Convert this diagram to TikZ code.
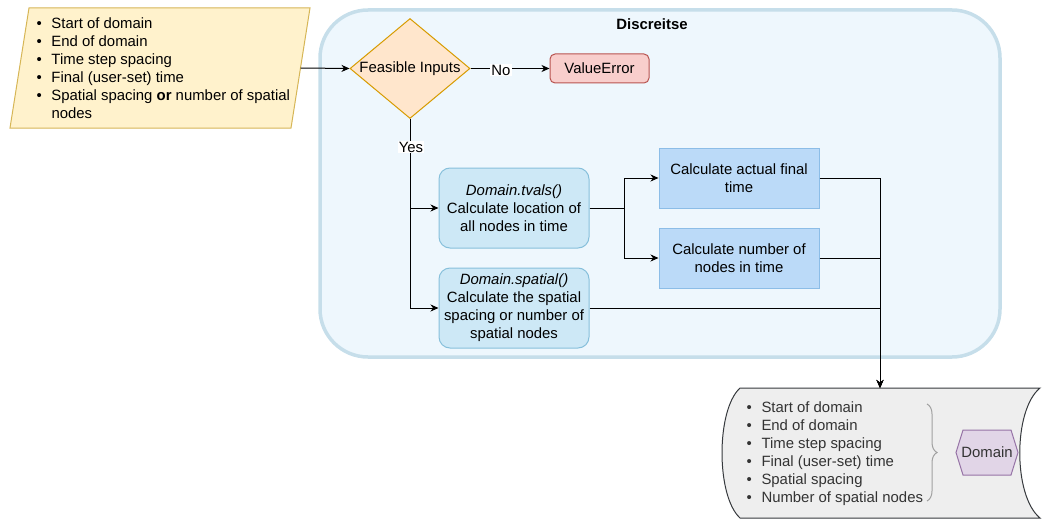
\documentclass[tikz,border=0pt]{standalone}
\usepackage{fontspec}
\setmainfont{Liberation Sans}
\usetikzlibrary{arrows.meta,shapes.geometric,decorations.pathreplacing,calc}
\definecolor{inFill}{HTML}{FFF2CC}
\definecolor{inLine}{HTML}{D6B656}
\definecolor{diaFill}{HTML}{FFE6CC}
\definecolor{diaLine}{HTML}{D79B00}
\definecolor{errFill}{HTML}{F8CECC}
\definecolor{errLine}{HTML}{B85450}
\definecolor{conFill}{HTML}{EEF7FD}
\definecolor{conLine}{HTML}{C6DEEA}
\definecolor{rbFill}{HTML}{CDE8F6}
\definecolor{rbLine}{HTML}{87C0DB}
\definecolor{sqFill}{HTML}{BBDAF8}
\definecolor{sqLine}{HTML}{8CBDE7}
\definecolor{stFill}{HTML}{EEEEEE}
\definecolor{stLine}{HTML}{36393D}
\definecolor{stText}{HTML}{333333}
\definecolor{domFill}{HTML}{E1D5E7}
\definecolor{domLine}{HTML}{9673A6}
\definecolor{braceCol}{HTML}{A0A0A0}
\newcommand{\bitem}[1]{\makebox[15pt][l]{\textbullet}#1}
\begin{document}
\begin{tikzpicture}[x=1pt,y=-1pt,
  font=\fontsize{14.9}{18}\selectfont,
  line width=1pt,
  arr/.style={-{Stealth[length=8pt,width=7pt,inset=2.5pt]}, line width=1pt},
  frame/.style={inner sep=0pt, outer sep=0pt},
  container/.style={draw=conLine, fill=conFill, line width=3.5pt, rounded corners=48pt, inner sep=0pt},
  decision/.style={diamond, draw=diaLine, fill=diaFill, aspect=1.2, inner sep=0pt, minimum width=120pt, minimum height=100pt},
  errbox/.style={draw=errLine, fill=errFill, rounded corners=5pt, minimum width=99pt, minimum height=29pt, inner sep=0pt},
  roundbox/.style={draw=rbLine, fill=rbFill, rounded corners=11pt, minimum width=150pt, minimum height=80pt, inner sep=0pt, align=center},
  sqbox/.style={draw=sqLine, fill=sqFill, minimum width=160pt, minimum height=60pt, inner sep=0pt, align=center},
  lbl/.style={fill=white, inner sep=1pt},
  listtext/.style={anchor=west, inner sep=0pt, align=left}
]
\useasboundingbox (0,0) rectangle (1056,524);

% container
\node[container, minimum width=680pt, minimum height=347pt] (disc) at (660,183.5) {};
\node[frame] (title) at (652,24) {\bfseries Discreitse};

% input parallelogram
\node[frame, minimum width=281pt, minimum height=120pt] (input) at (160,68) {};
\draw[draw=inLine, fill=inFill] (29,8) -- (310,8) -- (291,128) -- (10,128) -- cycle;
\node[listtext] (intext) at (36,68.5) {\bitem{Start of domain}\\
\bitem{End of domain}\\
\bitem{Time step spacing}\\
\bitem{Final (user-set) time}\\
\bitem{Spatial spacing \textbf{or} number of spatial}\\
\hspace*{15pt}nodes};

% decision
\node[decision] (dia) at (410,68.5) {Feasible Inputs};
\node[errbox] (err) at (599.5,68.5) {ValueError};

% process boxes
\node[roundbox] (tvals) at (514,208) {\textit{Domain.tvals()}\\Calculate location of\\all nodes in time};
\node[roundbox] (spatial) at (514,308) {\textit{Domain.spatial()}\\Calculate the spatial\\spacing or number of\\spatial nodes};
\node[sqbox] (final) at (739,178) {Calculate actual final\\time};
\node[sqbox] (number) at (739,258) {Calculate number of\\nodes in time};

% output storage
\node[frame, minimum width=300pt, minimum height=130pt] (store) at (890,453) {};
\draw[draw=stLine, fill=stFill] (740,388) -- (1040,388)
  .. controls (1013,410) and (1013,496) .. (1040,518) -- (740,518)
  .. controls (716,496) and (716,410) .. (740,388) -- cycle;
\node[listtext, text=stText] (storetext) at (746,454) {\bitem{Start of domain}\\
\bitem{End of domain}\\
\bitem{Time step spacing}\\
\bitem{Final (user-set) time}\\
\bitem{Spatial spacing}\\
\bitem{Number of spatial nodes}};
\draw[braceCol, line width=1pt, decorate, decoration={brace, amplitude=10pt, aspect=0.5}] (927,404) -- (927,501);
\draw[draw=domLine, fill=domFill] (956,452.5) -- (963,430) -- (1011,430) -- (1018,452.5) -- (1011,475) -- (963,475) -- cycle;
\node[frame, text=stText, minimum width=62pt, minimum height=45pt] (domain) at (987,452.5) {Domain};

% connectors
\draw[arr] (input.east) -- (dia.west);
\draw[arr] (dia.east) -- (err.west);
\node[lbl] (no) at (501,70) {No};
\draw[arr] (dia.south) |- (tvals.west);
\draw[arr] (dia.south) |- (spatial.west);
\node[lbl] (yes) at (411,147) {Yes};
\coordinate (split) at (624,208);
\draw[arr] (tvals.east) -- (split) |- (final.west);
\draw[arr] (tvals.east) -- (split) |- (number.west);
\coordinate (join) at ($(store.north)+(-10,0)$);
\draw[arr] (final.east) -| (join);
\draw[arr] (number.east) -| (join);
\draw[arr] (spatial.east) -| (join);
\end{tikzpicture}
\end{document}
